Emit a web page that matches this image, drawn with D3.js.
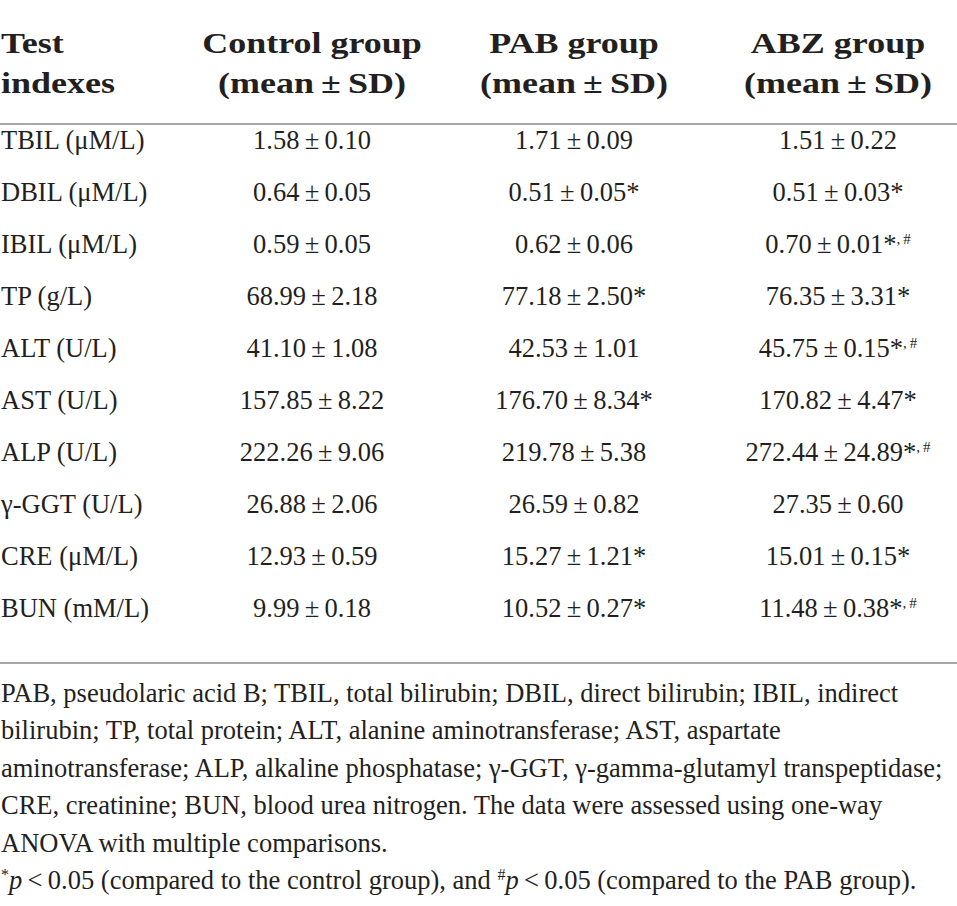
<!DOCTYPE html>
<html><head><meta charset="utf-8">
<script src="https://cdn.jsdelivr.net/npm/d3@7"></script>
<style>
html,body{margin:0;padding:0;background:#fff;}
svg{display:block;}
</style></head>
<body>
<script>
// ---- data ----
const indexes = ["TBIL (μM/L)","DBIL (μM/L)","IBIL (μM/L)","TP (g/L)","ALT (U/L)","AST (U/L)","ALP (U/L)","γ-GGT (U/L)","CRE (μM/L)","BUN (mM/L)"];
const groups = ["Control group","PAB group","ABZ group"];
const controlMean = [1.58,0.64,0.59,68.99,41.10,157.85,222.26,26.88,12.93,9.99];
const controlSD   = [0.10,0.05,0.05,2.18,1.08,8.22,9.06,2.06,0.59,0.18];
const pabMean = [1.71,0.51,0.62,77.18,42.53,176.70,219.78,26.59,15.27,10.52];
const pabSD   = [0.09,0.05,0.06,2.50,1.01,8.34,5.38,0.82,1.21,0.27];
const pabSig  = ["","*","","*","","*","","","*","*"];
const abzMean = [1.51,0.51,0.70,76.35,45.75,170.82,272.44,27.35,15.01,11.48];
const abzSD   = [0.22,0.03,0.01,3.31,0.15,4.47,24.89,0.60,0.15,0.38];
const abzSig  = ["","*","*#","*","*#","*","*#","","*","*#"];
const notes = [
  "PAB, pseudolaric acid B; TBIL, total bilirubin; DBIL, direct bilirubin; IBIL, indirect",
  "bilirubin; TP, total protein; ALT, alanine aminotransferase; AST, aspartate",
  "aminotransferase; ALP, alkaline phosphatase; γ-GGT, γ-gamma-glutamyl transpeptidase;",
  "CRE, creatinine; BUN, blood urea nitrogen. The data were assessed using one-way",
  "ANOVA with multiple comparisons."
];

// ---- layout ----
const W = 957, H = 906;
const ink = "#231f20";
const serif = "'Liberation Serif','Times New Roman',serif";
const svg = d3.select("body").append("svg").attr("width", W).attr("height", H)
  .style("font-family", serif).style("fill", ink);

const x = d3.scaleOrdinal().domain(groups).range([312, 574, 838]);
const y = d3.scalePoint().domain(indexes).range([149, 149 + 9 * 52]);

// header
const hdr = svg.append("g").attr("font-weight", "bold").attr("font-size", 30);
const hs = 1.2;
[["Test", 53], ["indexes", 93]].forEach(([t, by]) => {
  hdr.append("text").attr("transform", `translate(1,${by}) scale(${hs},1)`).text(t);
});
groups.forEach(g => {
  [[g, 53], ["(mean\u2009±\u2009SD)", 93]].forEach(([t, by]) => {
    hdr.append("text").attr("text-anchor", "middle")
      .attr("transform", `translate(${x(g)},${by}) scale(${hs},1)`).text(t);
  });
});

// rules
svg.append("line").attr("x1", 0).attr("x2", W).attr("y1", 124).attr("y2", 124)
  .attr("stroke", "#8a8a8a").attr("stroke-width", 1.6);
svg.append("line").attr("x1", 0).attr("x2", W).attr("y1", 663).attr("y2", 663)
  .attr("stroke", "#8a8a8a").attr("stroke-width", 1.6);

// body
const body = svg.append("g").attr("font-size", 26.5);
const fmt = v => v.toFixed(2);
indexes.forEach((lab, i) => {
  body.append("text").attr("x", 1).attr("y", y(lab)).text(lab);
  const cols = [
    [groups[0], controlMean[i], controlSD[i], ""],
    [groups[1], pabMean[i], pabSD[i], pabSig[i]],
    [groups[2], abzMean[i], abzSD[i], abzSig[i]]
  ];
  cols.forEach(([g, m, s, sig]) => {
    const t = body.append("text").attr("x", x(g)).attr("y", y(lab)).attr("text-anchor", "middle");
    t.append("tspan").text(fmt(m) + "\u2009±\u2009" + fmt(s));
    if (sig.includes("*")) t.append("tspan").text("*");
    if (sig.includes("#")) {
      t.append("tspan").attr("font-size", 15).attr("dy", -9).text(",\u2009#");
    }
  });
});

// footnotes
const foot = svg.append("g").attr("font-size", 26.5);
const fy = d3.scaleLinear().domain([0, 5]).range([702, 889]);
notes.forEach((n, i) => {
  foot.append("text").attr("x", 1).attr("y", fy(i)).text(n);
});
const last = foot.append("text").attr("x", 1).attr("y", fy(5));
last.append("tspan").attr("font-size", 16).attr("dy", -9).text("*");
last.append("tspan").attr("font-style", "italic").attr("dy", 9).text("p");
last.append("tspan").text("\u2009<\u20090.05 (compared to the control group), and ");
last.append("tspan").attr("font-size", 16).attr("dy", -9).text("#");
last.append("tspan").attr("font-style", "italic").attr("dy", 9).text("p");
last.append("tspan").text("\u2009<\u20090.05 (compared to the PAB group).");
</script>
</body></html>
